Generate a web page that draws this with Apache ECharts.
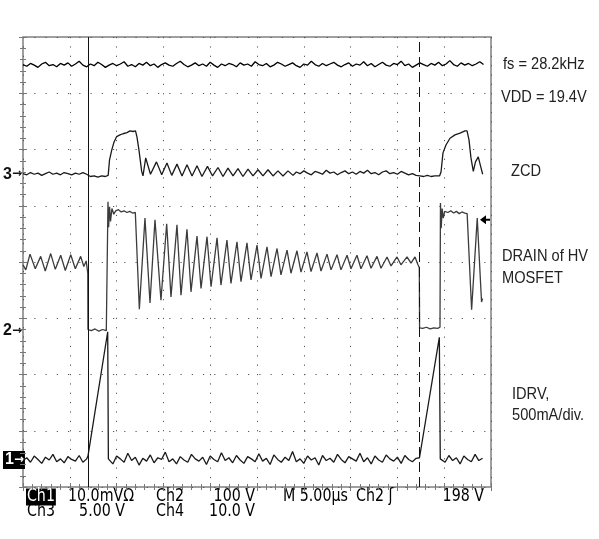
<!DOCTYPE html>
<html>
<head>
<meta charset="utf-8">
<title>ZCD / DRAIN / IDRV scope capture</title>
<script src="https://cdn.jsdelivr.net/npm/echarts@6/dist/echarts.min.js"></script>
<style>
  html, body { margin: 0; padding: 0; background: #fff; }
  #main { width: 599px; height: 539px; }
</style>
</head>
<body>
<div id="main"></div>
<script>
// x axis: time in µs (10 div x 5 µs), y axis: screen divisions (8 div)
var timeRange = [0, 50]
var divRange = [0, 8]
var cursorTimes = [6.94, 42.36]

// VDD trace, sampled every 0.4 µs from t = 0
var vddLevels = [
  7.51, 7.48, 7.53, 7.50, 7.46, 7.52, 7.55, 7.49, 7.51, 7.47,
  7.53, 7.50, 7.54, 7.48, 7.52, 7.57, 7.50, 7.47, 7.52, 7.49,
  7.55, 7.51, 7.46, 7.50, 7.53, 7.49, 7.52, 7.56, 7.48, 7.51,
  7.47, 7.53, 7.50, 7.55, 7.49, 7.52, 7.46, 7.51, 7.54, 7.50,
  7.48, 7.53, 7.57, 7.51, 7.47, 7.50, 7.54, 7.49, 7.52, 7.48,
  7.55, 7.50, 7.46, 7.52, 7.49, 7.53, 7.51, 7.47, 7.54, 7.50,
  7.52, 7.48, 7.56, 7.51, 7.49, 7.53, 7.47, 7.50, 7.55, 7.52,
  7.48, 7.51, 7.54, 7.49, 7.46, 7.52, 7.50, 7.57, 7.51, 7.48,
  7.53, 7.49, 7.52, 7.55, 7.50, 7.47, 7.51, 7.54, 7.48, 7.52,
  7.50, 7.56, 7.49, 7.53, 7.47, 7.51, 7.55, 7.50, 7.48, 7.53,
  7.51, 7.57, 7.49, 7.52, 7.46, 7.50, 7.54, 7.51, 7.48, 7.53,
  7.50, 7.55, 7.49, 7.52, 7.58, 7.51, 7.48, 7.54, 7.50, 7.53,
  7.49, 7.52, 7.56, 7.51
]

// ZCD trace
var zcdLeft = [5.57, 5.55, 5.59, 5.56, 5.58, 5.54, 5.57, 5.60, 5.56, 5.58, 5.55, 5.59, 5.57, 5.55, 5.58, 5.56, 5.59, 5.56]
var zcdPulse1 = [
  [7.2, 5.52], [7.6, 5.53], [8.0, 5.51], [8.4, 5.53], [8.8, 5.52], [9.1, 5.54],
  [9.11, 5.55], [9.24, 5.81], [9.48, 5.99], [9.72, 6.13], [10.01, 6.23], [10.36, 6.26],
  [10.68, 6.28], [11.11, 6.30], [11.43, 6.33], [11.75, 6.32], [12.02, 6.33], [12.18, 6.22],
  [12.39, 5.99], [12.68, 5.61], [12.82, 5.53],
  [13.11, 5.85], [13.62, 5.56], [14.26, 5.78], [14.82, 5.55], [15.38, 5.76], [15.89, 5.54],
  [16.45, 5.74], [16.99, 5.53], [17.52, 5.73], [18.06, 5.53], [18.59, 5.71], [19.12, 5.52],
  [19.71, 5.70], [20.25, 5.53], [20.83, 5.68], [21.37, 5.52], [21.90, 5.67], [22.44, 5.53],
  [22.97, 5.66], [23.50, 5.52], [24.04, 5.65], [24.57, 5.53], [25.11, 5.64], [25.64, 5.53],
  [26.18, 5.64], [26.71, 5.53], [27.24, 5.62], [27.78, 5.53], [28.31, 5.62], [28.85, 5.54]
]
var zcdTail = [
  5.60, 5.57, 5.62, 5.58, 5.55, 5.61, 5.59, 5.56, 5.63, 5.58,
  5.60, 5.55, 5.59, 5.62, 5.57, 5.60, 5.56, 5.61, 5.58, 5.63,
  5.57, 5.59, 5.55, 5.60, 5.62, 5.57, 5.59, 5.56, 5.61, 5.58,
  5.55, 5.57, 5.54
]
var zcdPulse2 = [
  [42.4, 5.53], [42.8, 5.52], [43.2, 5.54], [43.6, 5.52], [44.0, 5.53], [44.5, 5.53],
  [44.66, 5.60], [44.87, 5.94], [45.19, 6.08], [45.62, 6.20], [46.15, 6.26], [46.69, 6.29],
  [47.22, 6.33], [47.44, 6.33], [47.65, 6.17], [47.86, 5.85], [48.11, 5.61], [48.34, 5.78],
  [48.64, 5.87], [48.88, 5.71], [49.11, 5.56]
]

// DRAIN of HV MOSFET
var drainLeft = [
  [0, 3.95], [0.3, 3.86], [0.75, 4.14], [1.31, 3.88], [1.89, 4.10], [2.38, 3.84], [2.96, 4.15],
  [3.45, 3.87], [4.03, 4.12], [4.52, 3.85], [5.10, 4.13], [5.59, 3.88], [6.16, 4.10], [6.5, 3.92],
  [6.75, 4.02], [6.92, 3.80]
]
var drainOff1 = [[6.94, 2.80], [7.3, 2.78], [7.7, 2.81], [8.1, 2.77], [8.5, 2.80], [8.9, 2.78], [9.05, 2.80]]
var drainOn1 = [
  [9.08, 5.07], [9.15, 4.62], [9.25, 4.98], [9.35, 4.72], [9.5, 4.95], [9.7, 4.85], [9.9, 4.91],
  [10.2, 4.93], [10.5, 4.89], [10.8, 4.91], [11.1, 4.88], [11.4, 4.90], [11.7, 4.87], [12.0, 4.88]
]
var drainRing = [
  [12.43, 3.16], [13.03, 4.78], [13.57, 3.27], [14.10, 4.75], [14.74, 3.32], [15.35, 4.68],
  [15.81, 3.38], [16.45, 4.66], [16.88, 3.41], [17.52, 4.58], [17.95, 3.47], [18.59, 4.46],
  [19.02, 3.53], [19.66, 4.45], [20.09, 3.56], [20.73, 4.43], [21.15, 3.59], [21.79, 4.39],
  [22.22, 3.62], [22.86, 4.36], [23.29, 3.65], [23.93, 4.34], [24.36, 3.68], [25.00, 4.30],
  [25.43, 3.71], [26.07, 4.27], [26.50, 3.74], [27.14, 4.24], [27.56, 3.77], [28.21, 4.21],
  [28.63, 3.80], [29.27, 4.20], [29.70, 3.82], [30.34, 4.18], [30.77, 3.83], [31.41, 4.16],
  [31.84, 3.84], [32.48, 4.14], [32.91, 3.86], [33.55, 4.13], [33.97, 3.86], [34.62, 4.12],
  [35.04, 3.88], [35.68, 4.12], [36.11, 3.88], [36.75, 4.11], [37.18, 3.89], [37.82, 4.10],
  [38.25, 3.89], [38.89, 4.09], [39.32, 3.93], [39.96, 4.09], [40.38, 3.95], [41.03, 4.09],
  [41.45, 3.98], [41.88, 4.09], [42.2, 3.95], [42.34, 3.90]
]
var drainOff2 = [[42.37, 2.83], [42.7, 2.82], [43.1, 2.84], [43.5, 2.81], [43.9, 2.83], [44.3, 2.82], [44.55, 2.84]]
var drainOn2 = [
  [44.6, 5.05], [44.68, 4.60], [44.78, 4.95], [44.9, 4.78], [45.05, 4.90], [45.4, 4.88], [45.7, 4.91],
  [46.0, 4.87], [46.3, 4.90], [46.6, 4.86], [46.9, 4.89], [47.2, 4.87], [47.45, 4.86], [47.93, 3.15],
  [48.53, 4.78], [48.99, 3.29], [49.1, 3.35]
]

// IDRV current
var idrvNoiseA = [0.47, 0.52, 0.44, 0.55, 0.49, 0.42, 0.53, 0.48, 0.58, 0.45, 0.50, 0.43, 0.54, 0.49, 0.46, 0.56, 0.44, 0.50]
var idrvRamp1 = [[6.94, 0.55], [9.05, 2.76], [9.12, 0.50]]
var idrvNoiseB = [
  0.48, 0.41, 0.55, 0.50, 0.44, 0.60, 0.47, 0.53, 0.39, 0.51,
  0.46, 0.57, 0.43, 0.52, 0.49, 0.62, 0.45, 0.50, 0.41, 0.54,
  0.48, 0.44, 0.58, 0.50, 0.46, 0.53, 0.40, 0.55, 0.49, 0.45,
  0.61, 0.47, 0.52, 0.43, 0.56, 0.48, 0.42, 0.54, 0.50, 0.45,
  0.59, 0.46, 0.51, 0.40, 0.57, 0.49, 0.44, 0.53, 0.47, 0.63,
  0.45, 0.50, 0.42, 0.55, 0.48, 0.52, 0.39, 0.56, 0.47, 0.51,
  0.44, 0.58, 0.49, 0.43, 0.54, 0.50, 0.46, 0.60, 0.45, 0.52,
  0.41, 0.55, 0.48, 0.44, 0.57, 0.50, 0.46, 0.53, 0.42, 0.56,
  0.49, 0.45, 0.51
]
var idrvRamp2 = [[42.36, 0.52], [44.48, 2.66], [44.58, 0.50]]
var idrvNoiseC = [0.50, 0.44, 0.56, 0.47, 0.52, 0.41, 0.55, 0.49, 0.45, 0.58, 0.47, 0.51]

// channel ground markers on the left, trigger level arrow on the right
var channelMarks = [
  { name: '3', level: 5.56 },
  { name: '2', level: 2.78 },
  { name: '1', level: 0.48 }
]
var triggerLevel = 4.75

// turn an evenly sampled list into [t, value] pairs
function sampled(t0, dt, values) {
  return values.map(function (v, i) {
    return [+(t0 + i * dt).toFixed(2), v]
  })
}

var vddData = sampled(0, 0.4, vddLevels)
var zcdData = sampled(0, 0.4, zcdLeft).concat(zcdPulse1, sampled(29.2, 0.4, zcdTail), zcdPulse2)
var drainData = drainLeft.concat(drainOff1, drainOn1, drainRing, drainOff2, drainOn2)
var idrvData = sampled(0, 0.4, idrvNoiseA).concat(idrvRamp1, sampled(9.2, 0.4, idrvNoiseB), idrvRamp2, sampled(44.7, 0.4, idrvNoiseC))

var chart = echarts.init(document.getElementById('main'))

var tickColor = '#777'
var dotColor = '#555'

function edgeAxis(range, step, pos, dots, dash) {
  return {
    type: 'value',
    position: pos,
    min: range[0],
    max: range[1],
    interval: step,
    axisLine: { show: false },
    axisLabel: { show: false },
    axisTick: { show: true, inside: true, length: 4, lineStyle: { color: tickColor } },
    minorTick: { show: true, splitNumber: 5, length: 3, lineStyle: { color: tickColor } },
    splitLine: { show: dots, lineStyle: { color: dotColor, width: 1, type: dash } }
  }
}

function trace(name, data, color) {
  return {
    name: name,
    type: 'line',
    data: data,
    showSymbol: false,
    symbol: 'none',
    animation: false,
    lineStyle: { color: color, width: 1.3 }
  }
}

var vddSeries = trace('VDD', vddData, '#000')
// cursors: solid one at the first edge, dashed one a period later
vddSeries.markLine = {
  silent: true,
  symbol: 'none',
  animation: false,
  label: { show: false },
  data: [
    { xAxis: cursorTimes[0], lineStyle: { color: '#111', width: 1, type: 'solid' } },
    { xAxis: cursorTimes[1], lineStyle: { color: '#111', width: 1, type: [10, 5] } }
  ]
}

chart.setOption({
  backgroundColor: '#fff',
  animation: false,
  grid: {
    left: 23,
    top: 37,
    width: 468,
    height: 450,
    show: true,
    borderColor: '#808080',
    borderWidth: 1.5,
    backgroundColor: 'transparent'
  },
  xAxis: [
    edgeAxis(timeRange, 5, 'bottom', true, [1.2, 8.16]),
    edgeAxis(timeRange, 5, 'top', false, 'solid')
  ],
  yAxis: [
    edgeAxis(divRange, 1, 'left', true, [1.2, 10.05]),
    edgeAxis(divRange, 1, 'right', false, 'solid')
  ],
  series: [
    vddSeries,
    trace('ZCD', zcdData, '#1a1a1a'),
    trace('DRAIN', drainData, '#3c3c3c'),
    trace('IDRV', idrvData, '#1a1a1a')
  ]
})

// text overlay: needs the laid-out axes to find the marker rows
var plotRight = chart.convertToPixel({ xAxisIndex: 0 }, timeRange[1])
var sideFont = '17px "Liberation Sans", Arial, sans-serif'
var scopeFont = '17px "DejaVu Sans Condensed", "DejaVu Sans", sans-serif'

// text anchored at (x, y); squeeze narrows it like the scope's condensed fonts
function label(text, x, y, font, align, extra, squeeze) {
  var style = {
    text: text, x: 0, y: 0, font: font, fill: '#222',
    align: align || 'left', textAlign: align || 'left',
    verticalAlign: 'middle', textVerticalAlign: 'middle'
  }
  for (var k in extra) style[k] = extra[k]
  return { type: 'text', silent: true, x: x, y: y, scaleX: squeeze || 1, style: style }
}

var overlay = []
channelMarks.forEach(function (m) {
  var y = chart.convertToPixel({ yAxisIndex: 0 }, m.level)
  var boxed = m.name === '1'
  var ink = boxed ? '#fff' : '#111'
  overlay.push(label('{d|' + m.name + '}{a|\u2192}', 3, y, 'bold 16px "Liberation Sans", sans-serif', 'left', {
    fill: ink,
    backgroundColor: boxed ? '#000' : 'transparent',
    padding: boxed ? [1, 1, 1, 2] : 0,
    rich: {
      d: { font: 'bold 16px "Liberation Sans", sans-serif', fill: ink },
      a: { font: 'bold 12px "DejaVu Sans", sans-serif', fill: ink }
    }
  }))
})

// trigger level arrow, pointing left just inside the right edge
overlay.push({
  type: 'polygon',
  silent: true,
  x: plotRight - 11,
  y: chart.convertToPixel({ yAxisIndex: 0 }, triggerLevel),
  shape: { points: [[0, 0], [6, -4.5], [6, -1], [10, -1], [10, 1], [6, 1], [6, 4.5]] },
  style: { fill: '#000' }
})

// annotations on the right
var sq = 0.86
overlay.push(label('fs = 28.2kHz', 503, 64, sideFont, 'left', null, sq))
overlay.push(label('VDD = 19.4V', 501, 97, sideFont, 'left', null, sq))
overlay.push(label('ZCD', 511, 171, sideFont, 'left', null, sq))
overlay.push(label('DRAIN of HV', 502, 256, sideFont, 'left', null, sq))
overlay.push(label('MOSFET', 502, 278, sideFont, 'left', null, sq))
overlay.push(label('IDRV,', 512, 394, sideFont, 'left', null, sq))
overlay.push(label('500mA/div.', 512, 415, sideFont, 'left', null, sq))

// scope readout under the screen
var ro = 0.93
var black = { fill: '#000' }
overlay.push(label('Ch1', 26, 497, scopeFont, 'left', { fill: '#fff', backgroundColor: '#000', padding: [0, 1, 0, 1] }, ro))
overlay.push(label('10.0mV\u03a9', 68, 497, scopeFont, 'left', black, ro))
overlay.push(label('Ch2', 156, 497, scopeFont, 'left', black, ro))
overlay.push(label('100 V', 255, 497, scopeFont, 'right', black, ro))
overlay.push(label('M 5.00\u00b5s', 283, 497, scopeFont, 'left', black, ro))
overlay.push(label('Ch2 \u0283', 356, 497, scopeFont, 'left', black, ro))
overlay.push(label('198 V', 484, 497, scopeFont, 'right', black, ro))
overlay.push(label('Ch3', 27, 511.5, scopeFont, 'left', black, ro))
overlay.push(label('5.00 V', 125, 511.5, scopeFont, 'right', black, ro))
overlay.push(label('Ch4', 156, 511.5, scopeFont, 'left', black, ro))
overlay.push(label('10.0 V', 255, 511.5, scopeFont, 'right', black, ro))

chart.setOption({ graphic: overlay })
</script>
</body>
</html>
